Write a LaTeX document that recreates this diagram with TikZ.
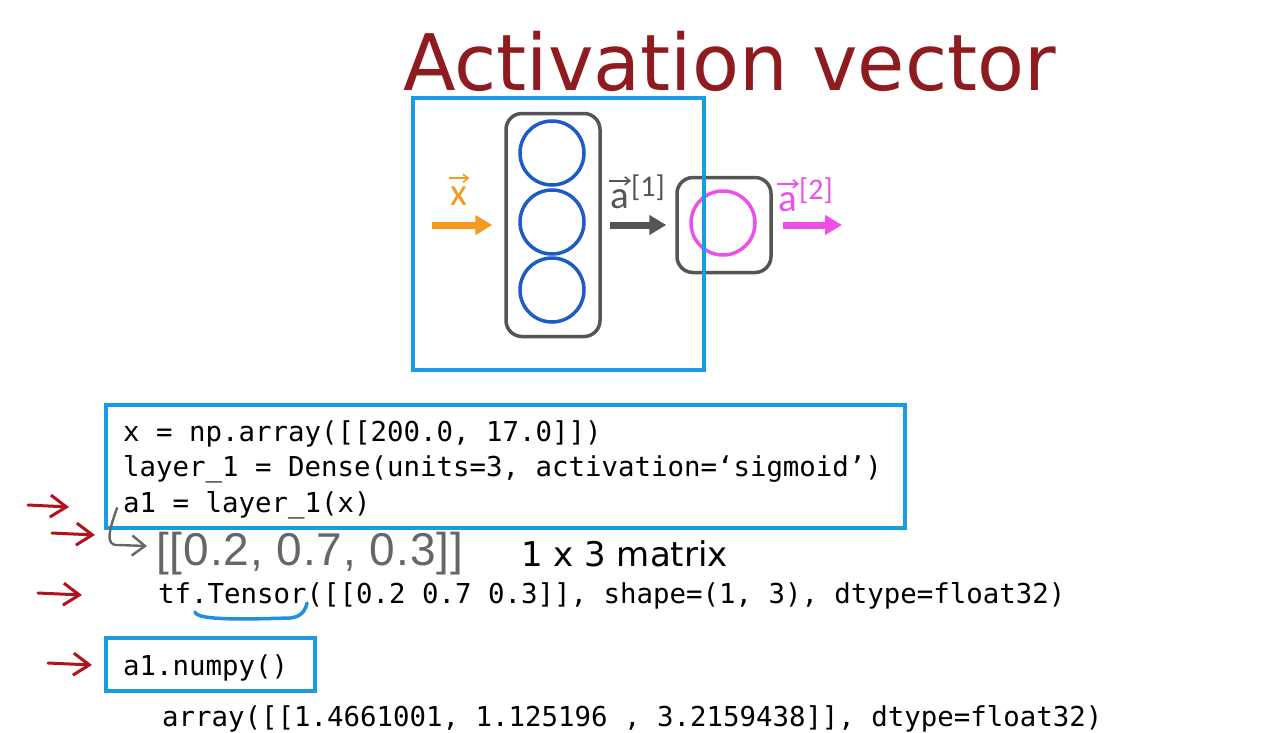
\documentclass[tikz,border=0pt]{standalone}
\usepackage{fontspec}
\newfontfamily\titlefont[FakeStretch=0.985]{DejaVu Sans}
\newfontfamily\sansfont{DejaVu Sans}
\newfontfamily\labfont{Carlito}
\newfontfamily\codefont{DejaVu Sans Mono}
\newfontfamily\handfont[LetterSpace=2]{Liberation Sans}
\usetikzlibrary{arrows.meta}
\definecolor{titlered}{HTML}{8E1B1F}
\definecolor{boxblue}{HTML}{1B9BE6}
\definecolor{circblue}{HTML}{1F5BC8}
\definecolor{netgray}{HTML}{555555}
\definecolor{xorange}{HTML}{F39A1F}
\definecolor{vpink}{HTML}{EE4FE8}
\definecolor{penred}{HTML}{B3121C}
\definecolor{pengray}{HTML}{666666}
\definecolor{penblue}{HTML}{1E90E0}
\tikzset{
  code/.style={anchor=base west, inner sep=0, font=\codefont\fontsize{27.4}{30}\selectfont},
  bluebox/.style={draw=boxblue, line width=4, inner sep=0},
  layerbox/.style={draw=netgray, line width=3.5, rounded corners=16, inner sep=0},
  neuron/.style={circle, line width=3.5, minimum size=64, inner sep=0},
  fatarrow/.style={line width=7, -{Triangle[length=17pt,width=19pt]}},
  redarrow/.style={penred, line width=3, line cap=round, -{Straight Barb[length=16pt,width=22pt]}},
  veclabel/.style={anchor=base west, inner sep=0, font=\labfont\fontsize{39}{39}\selectfont},
  suplabel/.style={anchor=base west, inner sep=0, font=\labfont\fontsize{30}{30}\selectfont},
  vecarrow/.style={line width=1.6, -{Straight Barb[length=5pt,width=8pt]}},
}
\begin{document}
\begin{tikzpicture}[x=1pt,y=-1pt]
\useasboundingbox (0,0) rectangle (1273,732);
\fill[white] (0,0) rectangle (1273,732);

% title
\node[anchor=base west, inner sep=0, text=titlered, font=\titlefont\fontsize{78}{90}\selectfont] (title) at (403,90) {Activation vector};

% network
\node[layerbox, minimum width=94, minimum height=223] (layer1) at (553,225) {};
\node[neuron, draw=circblue] (n1) at (552,153) {};
\node[neuron, draw=circblue] (n2) at (552,222) {};
\node[neuron, draw=circblue] (n3) at (552,290) {};
\node[layerbox, minimum width=94, minimum height=95] (layer2) at (724,225) {};
\node[neuron, draw=vpink] (n4) at (723,223) {};

\coordinate (xin) at (432,225);
\coordinate (aout) at (842,225);
\draw[fatarrow, xorange, shorten >=12pt] (xin) -- (xin -| layer1.west);
\draw[fatarrow, netgray, shorten <=8pt, shorten >=9pt] (layer1.east) -- (layer2.west);
\draw[fatarrow, vpink, shorten <=10pt] (layer2.east) -- (aout);

% vector labels
\node[veclabel, text=xorange] (xlab) at (450,205) {x};
\draw[vecarrow, xorange] ([xshift=-1pt,yshift=8pt]xlab.north west) -- ([xshift=2pt,yshift=8pt]xlab.north east);
\node[veclabel, text=netgray] (a1lab) at (610,208) {a};
\node[suplabel, text=netgray] (a1sup) at (631,196) {[1]};
\draw[vecarrow, netgray] ([xshift=-1pt,yshift=8pt]a1lab.north west) -- ([xshift=2pt,yshift=8pt]a1lab.north east);
\node[veclabel, text=vpink] (a2lab) at (778,211) {a};
\node[suplabel, text=vpink] (a2sup) at (799,199) {[2]};
\draw[vecarrow, vpink] ([xshift=-1pt,yshift=8pt]a2lab.north west) -- ([xshift=2pt,yshift=8pt]a2lab.north east);

% blue frame drawn over network
\node[bluebox, line width=3.5, minimum width=291, minimum height=272] (netframe) at (558.5,234) {};

% code box
\node[bluebox, minimum width=799, minimum height=123] (codebox) at (505.5,466.5) {};
\node[code] (c1) at (123,441) {x = np.array([[200.0, 17.0]])};
\node[code] (c2) at (123,476.5) {layer\_1 = Dense(units=3, activation=‘sigmoid’)};
\node[code] (c3) at (123,512) {a1 = layer\_1(x)};

% handwritten result
\node[anchor=base west, inner sep=0, text=pengray, font=\handfont\fontsize{46}{46}\selectfont] (hand) at (156,565) {[[0.2, 0.7, 0.3]]};
\node[anchor=base west, inner sep=0, font=\sansfont\fontsize{34}{34}\selectfont] (matrix) at (521,566) {1 x 3 matrix};
\coordinate (hs) at (117,508);
\coordinate (he) at (147,546);
\draw[pengray, line width=2.4, line cap=round, -{Straight Barb[length=13pt,width=20pt]}] (hs) .. controls (110,528) and (104,546) .. (118,545) -- (he);

\node[code] (c4) at (158,603) {tf.Tensor([[0.2 0.7 0.3]], shape=(1, 3), dtype=float32)};
\draw[penblue, line width=3.5, line cap=round] (195,612) .. controls (197,621) and (250,619) .. (290,618) .. controls (300,617) and (305,612) .. (307,603);

\node[bluebox, minimum width=209, minimum height=53] (numpybox) at (210.5,664.5) {};
\node[code] (c5) at (123,675) {a1.numpy()};
\node[code] (c6) at (162,726) {array([[1.4661001, 1.125196 , 3.2159438]], dtype=float32)};

% red hand-drawn arrows
\coordinate (r1s) at (28,505); \coordinate (r1e) at (69,507);
\coordinate (r2s) at (52,533); \coordinate (r2e) at (95,535);
\coordinate (r3s) at (38,593); \coordinate (r3e) at (82,595);
\coordinate (r4s) at (48,663); \coordinate (r4e) at (92,665);
\draw[redarrow] (r1s) -- (r1e);
\draw[redarrow] (r2s) -- (r2e);
\draw[redarrow] (r3s) -- (r3e);
\draw[redarrow] (r4s) -- (r4e);
\end{tikzpicture}
\end{document}
